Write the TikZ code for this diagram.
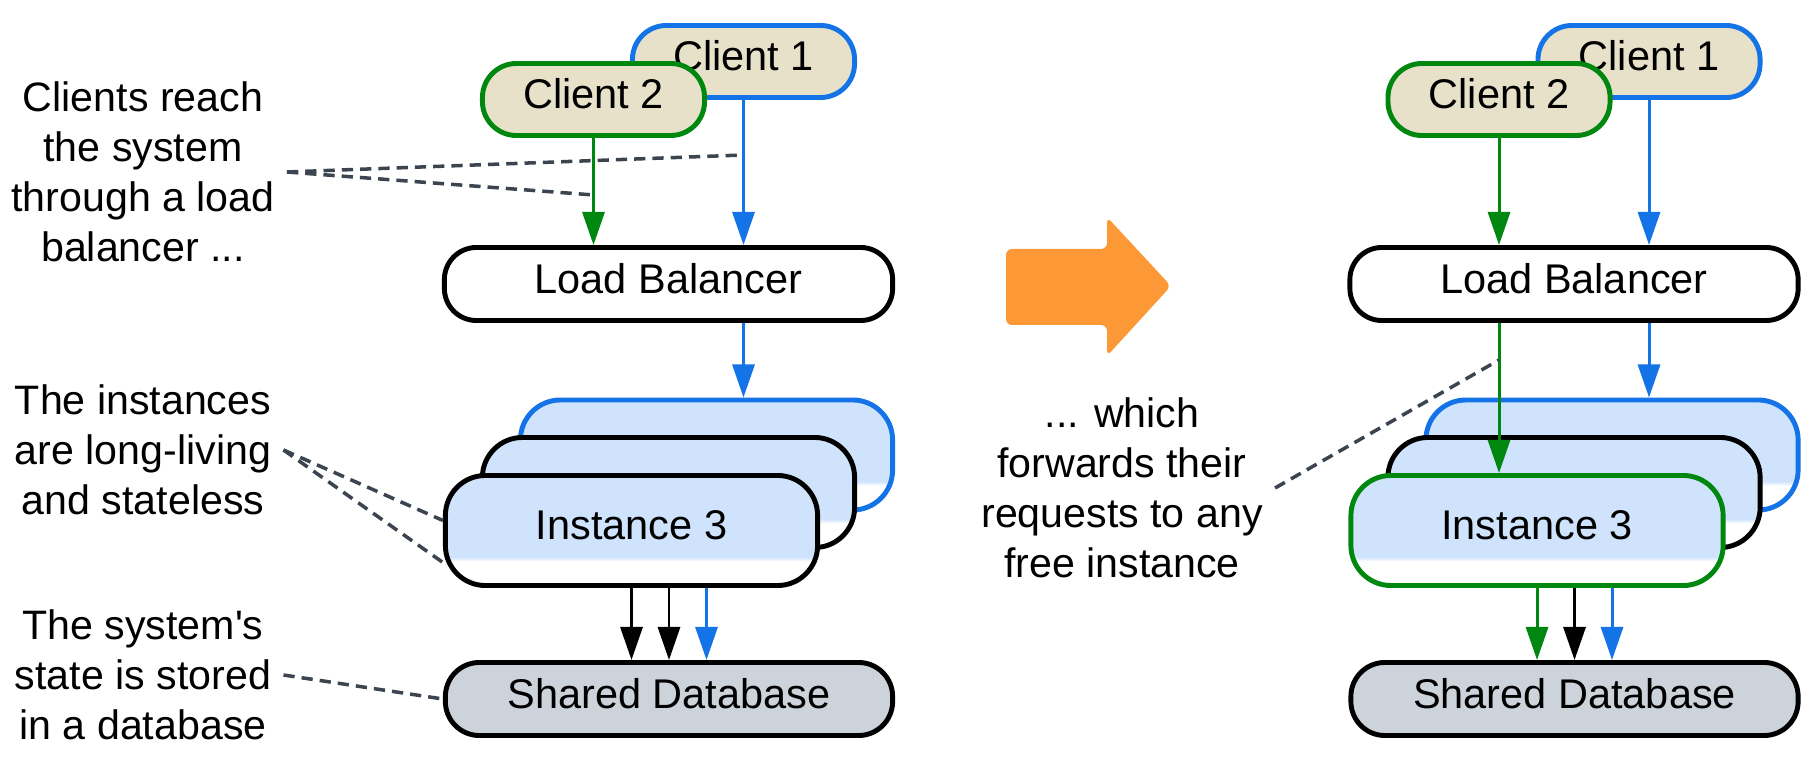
\documentclass[tikz,border=0pt]{standalone}
\usepackage{fontspec}
\setmainfont{Liberation Sans}[Ligatures=TeXOff]
\usetikzlibrary{arrows.meta,calc}
\definecolor{cgreen}{RGB}{0,135,15}
\definecolor{cblue}{RGB}{20,115,230}
\definecolor{cbeige}{RGB}{230,225,200}
\definecolor{instblue}{RGB}{207,227,252}
\definecolor{dbgray}{RGB}{205,211,219}
\definecolor{dashgray}{RGB}{60,68,80}
\definecolor{arroworange}{RGB}{252,152,54}
\pgfdeclareverticalshading{instfade}{100bp}{color(0bp)=(white); color(36bp)=(white); color(38bp)=(instblue); color(100bp)=(instblue)}
\tikzset{%
  box/.style      = {shape=rectangle, draw, line width=1.4pt, align=center,%
                     font=\fontsize{11.8}{14}\selectfont,%
                     text height=8.6pt, text depth=3.4pt},%
  client/.style   = {box, fill=cbeige, rounded corners=0.34cm,%
                     minimum width=2.22cm, minimum height=0.72cm},%
  balancer/.style = {box, fill=white, rounded corners=0.32cm,%
                     minimum width=4.48cm, minimum height=0.73cm},%
  instance/.style = {box, shade, shading=instfade, rounded corners=0.4cm,%
                     minimum width=3.72cm, minimum height=1.1cm},%
  database/.style = {box, fill=dbgray, rounded corners=0.34cm,%
                     minimum width=4.47cm, minimum height=0.73cm},%
  note/.style     = {align=center, font=\fontsize{11.7}{14.2}\selectfont},%
  flow/.style     = {-{Triangle[length=3.3mm,width=2.2mm]}, line width=0.85pt},%
  hint/.style     = {dashgray, dash pattern=on 3.2pt off 2pt, line width=1pt}%
}
\begin{document}
\begin{tikzpicture}[x=0.01cm, y=-0.01cm]
	\useasboundingbox (0,0) rectangle (1811,758);
	% before
	\node [client, draw=cblue] (c1) at (743.5,61.5) {Client 1};
	\node [client, draw=cgreen] (c2) at (593.5,99.5) {Client 2};
	\node [balancer] (lb) at (668.5,284) {Load Balancer};
	\node [instance, draw=cblue] (i1) at (706.5,455) {};
	\node [instance] (i2) at (668.5,492.5) {};
	\node [instance] (i3) at (631.5,530.5) {Instance 3};
	\node [database] (db) at (669,699) {Shared Database};
	\draw [flow, cgreen] (c2.south) -- (c2.south |- lb.north);
	\draw [flow, cblue] (c1.south) -- (c1.south |- lb.north);
	\draw [flow, cblue] (lb.south -| c1.south) -- (i1.north -| c1.south);
	\draw [flow] (i3.south) -- (i3.south |- db.north);
	\draw [flow] (db.north |- i3.south) -- (db.north);
	\draw [flow, cblue] (i1.south |- i3.south) -- (i1.south |- db.north);
	\node [note] (n1) at (143,172) {Clients reach\\the system\\through a load\\balancer ...};
	\node [note] (n2) at (143,450) {The instances\\are long-living\\and stateless};
	\node [note] (n3) at (143,675) {The system's\\state is stored\\in a database};
	\draw [hint] (n1.east) -- ($(c1.south)+(0,55)$);
	\draw [hint] (n1.east) -- ($(c2.south)+(0,57)$);
	\draw [hint] (n2.east) -- ($(i3.west)+(0,-10)$);
	\draw [hint] (n2.east) -- ($(i3.west)+(0,32)$);
	\draw [hint] (n3.east) -- (db.west);
	% transition
	\fill [arroworange, rounded corners=0.6mm] (1006,249) -- (1107,249) -- (1107,217)
		-- (1171,286) -- (1107,356) -- (1107,325) -- (1006,325) -- cycle;
	\node [note] (n4) at (1122,488) {... which\\forwards their\\requests to any\\free instance};
	% after
	\begin{scope}[xshift=9.05cm]
	\node [client, draw=cblue] (c1r) at (743.5,61.5) {Client 1};
	\node [client, draw=cgreen] (c2r) at (593.5,99.5) {Client 2};
	\node [balancer] (lbr) at (668.5,284) {Load Balancer};
	\node [instance, draw=cblue] (i1r) at (706.5,455) {};
	\node [instance] (i2r) at (668.5,492.5) {};
	\node [instance, draw=cgreen] (i3r) at (631.5,530.5) {Instance 3};
	\node [database] (dbr) at (669,699) {Shared Database};
	\draw [flow, cgreen] (c2r.south) -- (c2r.south |- lbr.north);
	\draw [flow, cblue] (c1r.south) -- (c1r.south |- lbr.north);
	\draw [flow, cgreen] (lbr.south -| c2r.south) -- (i3r.north -| c2r.south);
	\draw [flow, cblue] (lbr.south -| c1r.south) -- (i1r.north -| c1r.south);
	\draw [flow, cgreen] (i3r.south) -- (i3r.south |- dbr.north);
	\draw [flow] (dbr.north |- i3r.south) -- (dbr.north);
	\draw [flow, cblue] (i1r.south |- i3r.south) -- (i1r.south |- dbr.north);
	\end{scope}
	\draw [hint] (n4.east) -- ($(lbr.south -| c2r.south)+(0,37)$);
\end{tikzpicture}
\end{document}
